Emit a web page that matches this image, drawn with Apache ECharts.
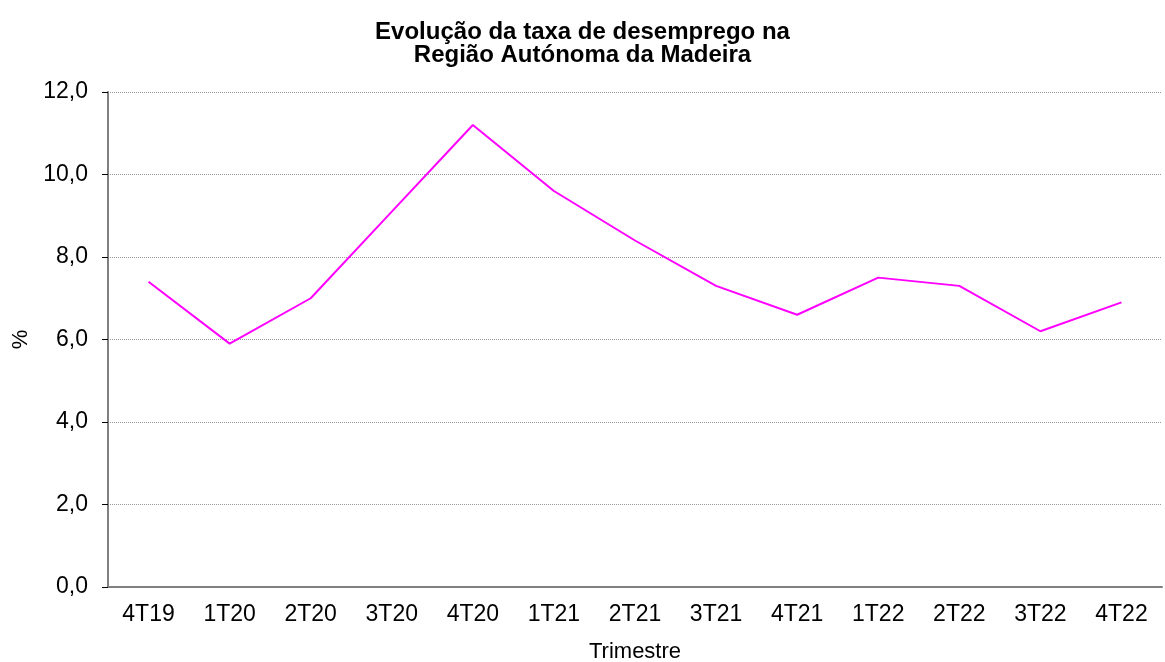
<!DOCTYPE html>
<html>
<head>
<meta charset="utf-8">
<style>
html, body { margin: 0; padding: 0; background: #fff; }
#chartElem { width: 1165px; height: 662px; }
</style>
</head>
<body>
<div id="chartElem"></div>

<script src="https://cdn.jsdelivr.net/npm/echarts@6/dist/echarts.min.js"></script>

<script>

let quarters = ["4T19", "1T20", "2T20", "3T20", "4T20", "1T21", "2T21", "3T21", "4T21", "1T22", "2T22", "3T22", "4T22"];

let unemploymentRate = [7.4, 5.9, 7.0, 9.1, 11.2, 9.6, 8.4, 7.3, 6.6, 7.5, 7.3, 6.2, 6.9];

let titleLines = ["Evolução da taxa de desemprego na", "Região Autónoma da Madeira"];


let chart = echarts.init(document.getElementById("chartElem"));

chart.setOption({
	animation: false,
	textStyle: {
		fontFamily: "Liberation Sans, Arial, sans-serif"
	},
	title: {
		text: titleLines.join("\n"),
		left: "center",
		top: 16,
		textStyle: {
			fontSize: 24,
			fontWeight: "bold",
			color: "#000",
			lineHeight: 23
		}
	},
	grid: {
		left: 108,
		right: 3,
		top: 92,
		bottom: 75,
		containLabel: false,
		outerBoundsMode: "none"
	},
	xAxis: {
		type: "category",
		data: quarters,
		name: "Trimestre",
		nameLocation: "center",
		nameGap: 54,
		nameTextStyle: { fontSize: 22, color: "#000" },
		axisLine: { lineStyle: { color: "#808080", width: 2 } },
		axisTick: { length: 7, lineStyle: { color: "#000" } },
		axisLabel: { fontSize: 23, color: "#000", margin: 16 }
	},
	yAxis: {
		type: "value",
		min: 0,
		max: 12,
		interval: 2,
		name: "%",
		nameLocation: "center",
		nameGap: 76,
		nameTextStyle: { fontSize: 22, color: "#000" },
		axisLine: { show: true, lineStyle: { color: "#808080", width: 2 } },
		axisTick: { show: true, length: 6, lineStyle: { color: "#000" } },
		axisLabel: {
			fontSize: 23,
			color: "#000",
			margin: 20,
			formatter: v => v.toFixed(1).replace(".", ",")
		},
		splitLine: { lineStyle: { color: "#999", type: [1, 1], width: 1 } }
	},
	series: [
		{
			type: "line",
			data: unemploymentRate,
			symbol: "none",
			lineStyle: { color: "#ff00ff", width: 2 }
		}
	]
});

</script>
</body>
</html>
